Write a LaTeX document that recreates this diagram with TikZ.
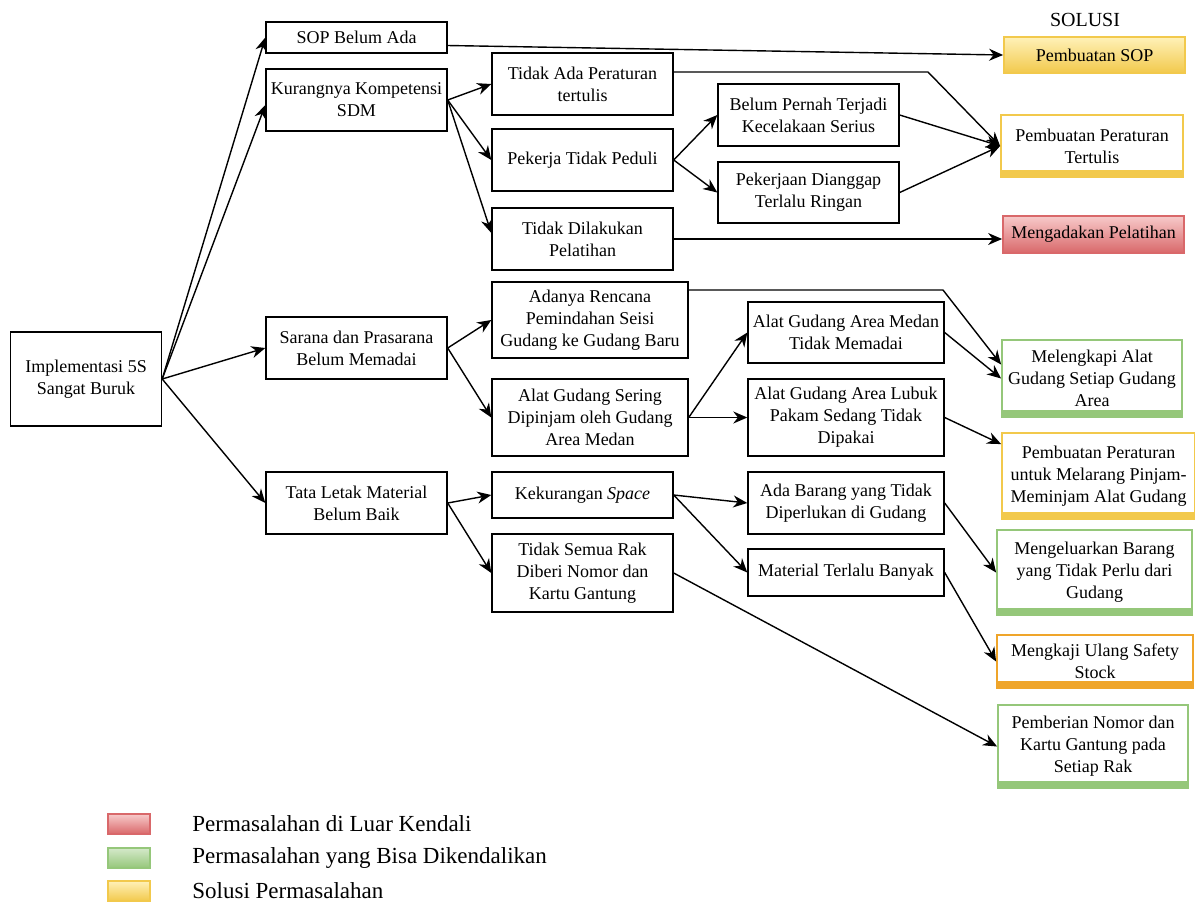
\documentclass[tikz,border=0pt]{standalone}
\usepackage{fontspec}
\setmainfont{Liberation Serif}
\usepackage{xcolor}
\usepackage{tikz}
\usetikzlibrary{arrows.meta}

\definecolor{solY}{HTML}{F2C94C}
\definecolor{solYl}{HTML}{FFF1B8}
\definecolor{solR}{HTML}{D9686A}
\definecolor{solRl}{HTML}{F7CACA}
\definecolor{solG}{HTML}{95C77A}
\definecolor{solO}{HTML}{EFA52A}

\tikzset{
  box/.style={draw, line width=0.7pt, fill=white, align=center, inner sep=1pt,
    font=\fontsize{9}{11}\selectfont},
  sol/.style={box, draw=#1, line width=0.9pt,
    path picture={\fill[#1] ([yshift=3.5pt]path picture bounding box.south west)
      rectangle (path picture bounding box.south east);}},
  solg/.style 2 args={box, draw=#1, line width=0.9pt, top color=#2, bottom color=#1},
  arr/.style={-{Stealth[length=7pt,width=6pt]}, line width=0.7pt},
  swatch/.style 2 args={draw=#1, line width=0.6pt, top color=#2, bottom color=#1,
    minimum width=21pt, minimum height=10pt, inner sep=0pt},
  legtext/.style={anchor=west, inner sep=0pt, font=\fontsize{11.5}{13}\selectfont}
}

\begin{document}
\begin{tikzpicture}[x=0.5pt,y=-0.5pt]
\useasboundingbox (0,0) rectangle (1195,901);
% Causes
\node[box, minimum width=75.5pt, minimum height=47pt] (root) at (86,379) {Implementasi 5S\\Sangat Buruk};
\node[box, minimum width=90.5pt, minimum height=15.5pt] (sop) at (356.5,37.5) {SOP Belum Ada};
\node[box, minimum width=90.5pt, minimum height=31pt] (kur) at (356.5,100) {Kurangnya Kompetensi\\SDM};
\node[box, minimum width=90.5pt, minimum height=31pt] (sar) at (356.5,348) {Sarana dan Prasarana\\Belum Memadai};
\node[box, minimum width=90.5pt, minimum height=31pt] (tat) at (356.5,503) {Tata Letak Material\\Belum Baik};
\node[box, minimum width=90.5pt, minimum height=31pt] (tap) at (582.5,84) {Tidak Ada Peraturan\\tertulis};
\node[box, minimum width=90.5pt, minimum height=31pt] (pek) at (582.5,160) {Pekerja Tidak Peduli};
\node[box, minimum width=90.5pt, minimum height=31pt] (tdp) at (582.5,239) {Tidak Dilakukan\\Pelatihan};
\node[box, minimum width=98pt, minimum height=38pt] (ren) at (590,320) {Adanya Rencana\\Pemindahan Seisi\\Gudang ke Gudang Baru};
\node[box, minimum width=98pt, minimum height=38.5pt] (pin) at (590,417.5) {Alat Gudang Sering\\Dipinjam oleh Gudang\\Area Medan};
\node[box, minimum width=90.5pt, minimum height=23pt] (spc) at (582.5,495) {Kekurangan \textit{Space}};
\node[box, minimum width=90.5pt, minimum height=39pt] (rak) at (582.5,573) {Tidak Semua Rak\\Diberi Nomor dan\\Kartu Gantung};
\node[box, minimum width=90.5pt, minimum height=31pt] (kec) at (808.5,115) {Belum Pernah Terjadi\\Kecelakaan Serius};
\node[box, minimum width=90.5pt, minimum height=30.5pt] (rin) at (808.5,192.5) {Pekerjaan Dianggap\\Terlalu Ringan};
\node[box, minimum width=98pt, minimum height=30.5pt] (med) at (846,332.5) {Alat Gudang Area Medan\\Tidak Memadai};
\node[box, minimum width=98pt, minimum height=38.5pt] (lub) at (846,417.5) {Alat Gudang Area Lubuk\\Pakam Sedang Tidak\\Dipakai};
\node[box, minimum width=98pt, minimum height=31pt] (brg) at (846,503) {Ada Barang yang Tidak\\Diperlukan di Gudang};
\node[box, minimum width=98pt, minimum height=23.5pt] (mat) at (846,572.5) {Material Terlalu Banyak};

% Solutions
\node[font=\fontsize{10}{12}\selectfont, inner sep=0pt] (solusi) at (1085,20) {SOLUSI};
\node[solg={solY}{solYl}, minimum width=90.5pt, minimum height=18pt] (psop) at (1094.5,55) {Pembuatan SOP};
\node[sol=solY, minimum width=91pt, minimum height=31pt] (ppt) at (1092,146) {Pembuatan Peraturan\\Tertulis};
\node[solg={solR}{solRl}, minimum width=90.5pt, minimum height=18.5pt] (pel) at (1093.5,234.5) {Mengadakan Pelatihan};
\node[sol=solG, minimum width=90pt, minimum height=38.5pt] (alt) at (1092,378.5) {Melengkapi Alat\\Gudang Setiap Gudang\\Area};
\node[sol=solY, minimum width=96.5pt, minimum height=43pt] (ppm) at (1098.5,476) {Pembuatan Peraturan\\untuk Melarang Pinjam-\\Meminjam Alat Gudang};
\node[sol=solG, minimum width=97.5pt, minimum height=42.5pt] (klr) at (1094.5,572.5) {Mengeluarkan Barang\\yang Tidak Perlu dari\\Gudang};
\node[sol=solO, minimum width=98pt, minimum height=26.5pt] (saf) at (1095,661.5) {Mengkaji Ulang Safety\\Stock};
\node[sol=solG, minimum width=95pt, minimum height=41.5pt] (nom) at (1093,746.5) {Pemberian Nomor dan\\Kartu Gantung pada\\Setiap Rak};

% Arrows
\coordinate (k1) at (928,72);
\coordinate (k2) at (943,290);
\draw[arr] (root.east) -- (sop.west);
\draw[arr] (root.east) -- ([yshift=-2.5pt]kur.west);
\draw[arr] (root.east) -- (sar.west);
\draw[arr] (root.east) -- (tat.west);
\draw[arr] ([yshift=-4pt]sop.east) -- (psop.west);
\draw[arr] (kur.east) -- (tap.west);
\draw[arr] (kur.east) -- (pek.west);
\draw[arr] (kur.east) -- ([yshift=3pt]tdp.west);
\draw[arr] (tap.east |- k1) -- (k1) -- (ppt.west);
\draw[arr] (pek.east) -- (kec.west);
\draw[arr] (pek.east) -- (rin.west);
\draw[arr] (kec.east) -- (ppt.west);
\draw[arr] (rin.east) -- (ppt.west);
\draw[arr] (tdp.east) -- (tdp.east -| pel.west);
\draw[arr] (sar.east) -- (ren.west);
\draw[arr] (sar.east) -- (pin.west);
\draw[arr] (ren.east |- k2) -- (k2) -- ([yshift=7pt]alt.west);
\draw[arr] (pin.east) -- (med.west);
\draw[arr] (pin.east) -- (lub.west);
\draw[arr] (med.east) -- (alt.west);
\draw[arr] (lub.east) -- ([yshift=-6pt]ppm.north west);
\draw[arr] (tat.east) -- (spc.west);
\draw[arr] (tat.east) -- (rak.west);
\draw[arr] (spc.east) -- (brg.west);
\draw[arr] (spc.east) -- (mat.west);
\draw[arr] (brg.east) -- (klr.west);
\draw[arr] (mat.east) -- (saf.west);
\draw[arr] (rak.east) -- (nom.west);

% Legend
\node[swatch={solR}{solRl}] (lg1) at (129,824) {};
\node[swatch={solG}{solG!40}] (lg2) at (129,858) {};
\node[swatch={solY}{solYl}] (lg3) at (129,891) {};
\node[legtext] (lt1) at (192,824) {Permasalahan di Luar Kendali};
\node[legtext] (lt2) at (192,858) {Permasalahan yang Bisa Dikendalikan};
\node[legtext] (lt3) at (192,891) {Solusi Permasalahan};
\end{tikzpicture}
\end{document}
